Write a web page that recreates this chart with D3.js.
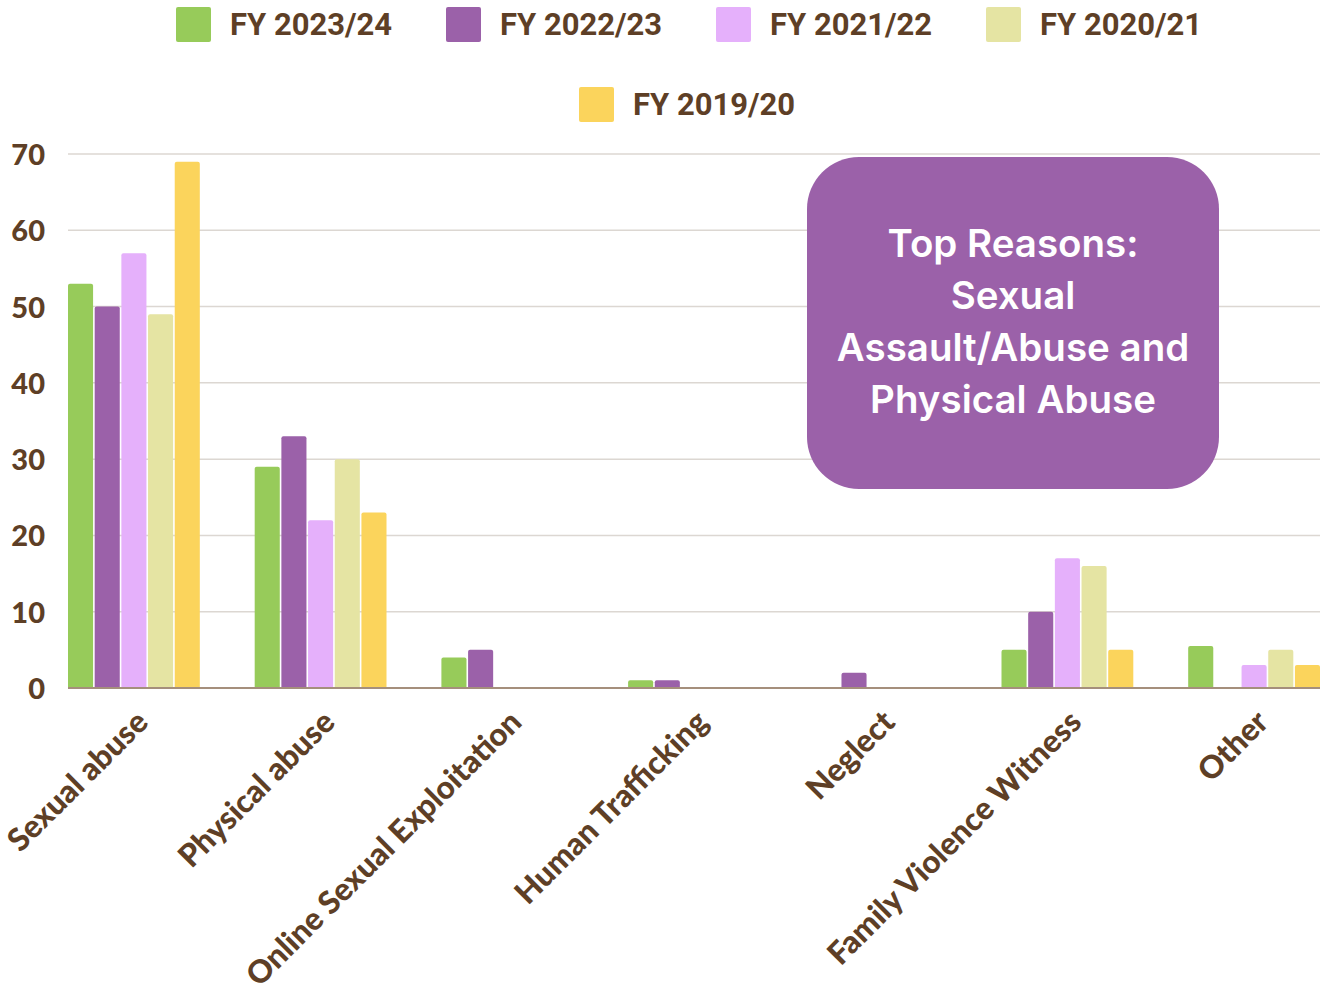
<!DOCTYPE html>
<html><head><meta charset="utf-8">
<script src="https://cdn.jsdelivr.net/npm/d3@7"></script>
<style>
html,body{margin:0;padding:0;background:#fff;}
svg{display:block;}
</style></head>
<body>
<svg id="chart" width="1330" height="992"></svg>
<script>
const categories = ["Sexual abuse","Physical abuse","Online Sexual Exploitation","Human Trafficking","Neglect","Family Violence Witness","Other"];
const seriesNames = ["FY 2023/24","FY 2022/23","FY 2021/22","FY 2020/21","FY 2019/20"];
const fy2324 = [53, 29, 4, 1, 0, 5, 5.5];
const fy2223 = [50, 33, 5, 1, 2, 10, 0];
const fy2122 = [57, 22, 0, 0, 0, 17, 3];
const fy2021 = [49, 30, 0, 0, 0, 16, 5];
const fy1920 = [69, 23, 0, 0, 0, 5, 3];
const seriesValues = [fy2324, fy2223, fy2122, fy2021, fy1920];
const seriesColors = ["#97cb5a","#9b61a9","#e5b0fb","#e5e4a3","#fbd45c"];
const yTicks = [0,10,20,30,40,50,60,70];
const noteLines = ["Top Reasons:","Sexual","Assault/Abuse and","Physical Abuse"];

(function(){
const svg = d3.select("#chart");
const brown = "#5e3f26";
const mL = 68, mR = 1320, mT = 154, mB = 688;

const x = d3.scaleBand().domain(categories).range([mL, mR]).paddingInner(0.294).paddingOuter(0).align(0);
const xi = d3.scaleBand().domain(seriesNames).range([0, x.bandwidth()]).paddingInner(0.06);
const y = d3.scaleLinear().domain([0, 70]).range([mB, mT]);

// grid
svg.append("g").selectAll("line").data(yTicks.filter(d => d > 0)).join("line")
  .attr("x1", mL).attr("x2", mR)
  .attr("y1", d => y(d)).attr("y2", d => y(d))
  .attr("stroke", "#dcd7d2").attr("stroke-width", 1.5);

// y axis labels
const yAxis = d3.axisLeft(y).tickValues(yTicks).tickSize(0).tickPadding(0);
const ya = svg.append("g").attr("transform", `translate(45,0)`).call(yAxis);
ya.select(".domain").remove();
ya.selectAll("text").attr("fill", brown).attr("font-family", "Lato").attr("font-weight", 900)
  .attr("font-size", 29).attr("dy", "0.36em");

// bars
const groups = svg.append("g").selectAll("g").data(categories).join("g")
  .attr("transform", d => `translate(${x(d)},0)`);
groups.selectAll("path").data((c, ci) => seriesNames.map((s, si) => ({s, si, v: seriesValues[si][ci]})).filter(d => d.v > 0))
  .join("path")
  .attr("fill", d => seriesColors[d.si])
  .attr("d", d => {
    const x0 = xi(d.s), w = xi.bandwidth(), y0 = y(d.v), h = mB - y0, r = Math.min(2, h/2);
    return `M${x0},${mB}V${y0+r}Q${x0},${y0} ${x0+r},${y0}H${x0+w-r}Q${x0+w},${y0} ${x0+w},${y0+r}V${mB}Z`;
  });

// baseline
svg.append("line").attr("x1", mL).attr("x2", mR).attr("y1", mB).attr("y2", mB)
  .attr("stroke", "#a58f7c").attr("stroke-width", 2);

// x labels
const xAxis = d3.axisBottom(x).tickSize(0).tickPadding(0);
const xa = svg.append("g").attr("transform", `translate(0,${mB})`).call(xAxis);
xa.select(".domain").remove();
xa.selectAll(".tick").attr("transform", d => `translate(${x(d) + x.bandwidth()/2 + 16},0)`);
xa.selectAll("text").attr("fill", brown).attr("font-family", "Lato").attr("font-weight", 900)
  .attr("font-size", 31.5).attr("text-anchor", "end").attr("dy", null).attr("y", 0)
  .attr("transform", "translate(0,36) rotate(-45)");

// legend
const legendPos = [[176,7],[446,7],[716,7],[986,7],[579,87]];
const lg = svg.append("g").selectAll("g").data(seriesNames).join("g")
  .attr("transform", (d,i) => `translate(${legendPos[i][0]},${legendPos[i][1]})`);
lg.append("rect").attr("width", 35).attr("height", 35).attr("rx", 2).attr("fill", (d,i) => seriesColors[i]);
lg.append("text").attr("x", 54).attr("y", 28).text(d => d)
  .attr("fill", brown).attr("font-family", "Roboto").attr("font-weight", 700).attr("font-size", 31);

// note box
const note = svg.append("g");
note.append("rect").attr("x", 807).attr("y", 157).attr("width", 412).attr("height", 332).attr("rx", 52)
  .attr("fill", "#9b61a9");
note.selectAll("text").data(noteLines).join("text")
  .attr("x", 1013).attr("y", (d,i) => 257 + i*52).attr("text-anchor", "middle")
  .attr("fill", "#fff").attr("font-family", "Inter").attr("font-weight", 600).attr("font-size", 38.5)
  .text(d => d);
})();
</script>
</body></html>
